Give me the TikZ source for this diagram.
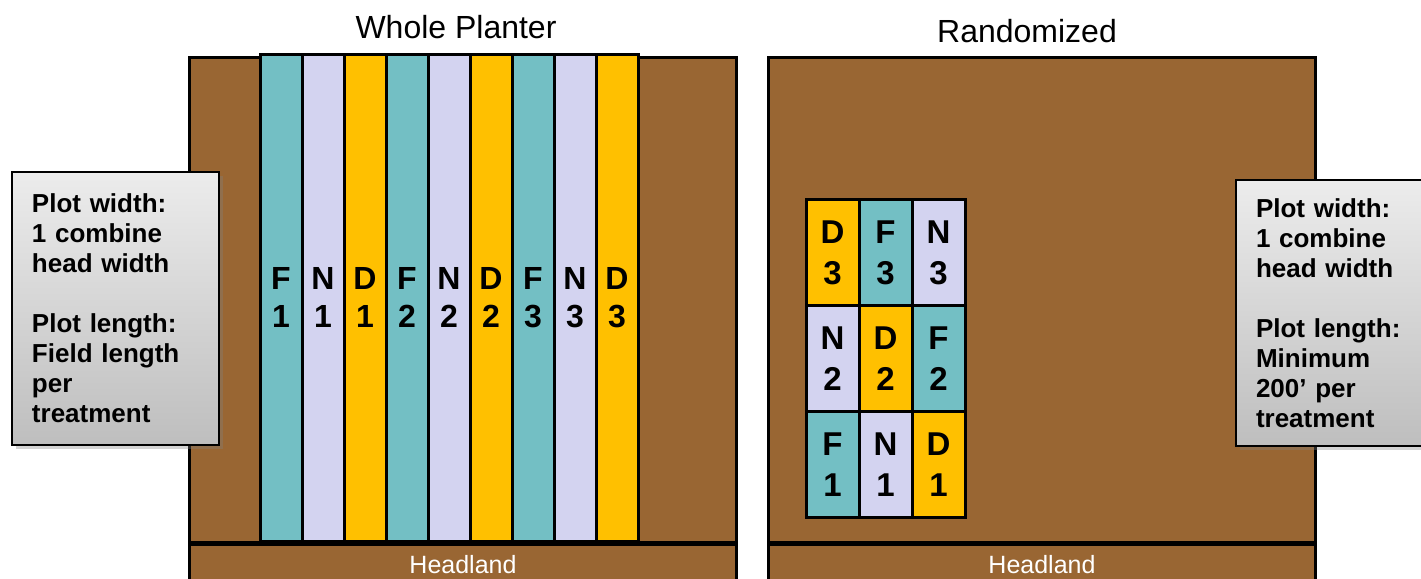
\documentclass[tikz,border=0pt]{standalone}
\usepackage{fontspec}
\setmainfont{Liberation Sans}
\usetikzlibrary{shadows}
\definecolor{soil}{RGB}{153,102,51}
\definecolor{tealc}{RGB}{115,191,196}
\definecolor{lavc}{RGB}{211,211,240}
\definecolor{goldc}{RGB}{255,192,0}
\definecolor{boxtop}{RGB}{236,236,236}
\definecolor{boxbot}{RGB}{190,190,190}
\tikzset{
  fieldbox/.style={draw=black, line width=1.5pt, fill=soil, anchor=north west, inner sep=0pt},
  headbox/.style={draw=black, line width=1.5pt, fill=soil, anchor=north west, inner sep=0pt,
    minimum width=273.5pt, minimum height=20pt, text=white, font=\fontsize{12.5}{15}\selectfont},
  stripbox/.style={draw=black, line width=1.5pt, inner sep=0pt, minimum width=21pt, minimum height=243.5pt,
    align=center, font=\bfseries\fontsize{16}{19}\selectfont},
  cellbox/.style={draw=black, line width=1.5pt, inner sep=0pt, minimum width=26.5pt, minimum height=53.25pt,
    align=center, font=\bfseries\fontsize{16.5}{20.5}\selectfont},
  infobox/.style={draw=black, line width=1pt, anchor=north west, top color=boxtop, bottom color=boxbot,
    drop shadow={opacity=0.35, shadow xshift=2pt, shadow yshift=-2pt},
    inner xsep=10pt, inner ysep=0pt, align=left,
    font=\bfseries\fontsize{13}{15}\selectfont},
  titletext/.style={font=\fontsize{16}{19}\selectfont, inner sep=0pt},
  F/.style={fill=tealc}, N/.style={fill=lavc}, D/.style={fill=goldc}
}
\begin{document}
\begin{tikzpicture}[x=0.5pt, y=-0.5pt]
\useasboundingbox (0,0) rectangle (1421,579);
\clip (0,0) rectangle (1421,579);
% titles
\node[titletext] (t1) at (456,27) {Whole Planter};
\node[titletext] (t2) at (1027,31) {Randomized};
% left field
\node[fieldbox, minimum width=273.5pt, minimum height=242.5pt] (lf) at (188,56) {};
\node[headbox] (lh) at (188,543) {Headland};
% strips
\node[stripbox, F] (s1) at (281,297.5) {F\\1};
\node[stripbox, N] (s2) at (323,297.5) {N\\1};
\node[stripbox, D] (s3) at (365,297.5) {D\\1};
\node[stripbox, F] (s4) at (407,297.5) {F\\2};
\node[stripbox, N] (s5) at (449,297.5) {N\\2};
\node[stripbox, D] (s6) at (491,297.5) {D\\2};
\node[stripbox, F] (s7) at (533,297.5) {F\\3};
\node[stripbox, N] (s8) at (575,297.5) {N\\3};
\node[stripbox, D] (s9) at (617,297.5) {D\\3};
% right field
\node[fieldbox, minimum width=273.5pt, minimum height=242.5pt] (rf) at (767,56) {};
\node[headbox] (rh) at (767,543) {Headland};
% grid
\node[cellbox, D] (c11) at (832.5,252.5) {D\\3};
\node[cellbox, F] (c12) at (885.5,252.5) {F\\3};
\node[cellbox, N] (c13) at (938.5,252.5) {N\\3};
\node[cellbox, N] (c21) at (832.5,358.5) {N\\2};
\node[cellbox, D] (c22) at (885.5,358.5) {D\\2};
\node[cellbox, F] (c23) at (938.5,358.5) {F\\2};
\node[cellbox, F] (c31) at (832.5,464.5) {F\\1};
\node[cellbox, N] (c32) at (885.5,464.5) {N\\1};
\node[cellbox, D] (c33) at (938.5,464.5) {D\\1};
% info boxes
\node[infobox, text width=83.5pt, minimum width=103.5pt, minimum height=136.5pt] (lb) at (11,171)
  {Plot width:\\1 combine\\head width\\[15pt]Plot length:\\Field length\\per\\treatment};
\node[infobox, text width=90pt, minimum width=110pt, minimum height=133pt] (rb) at (1235,179)
  {Plot width:\\1 combine\\head width\\[15pt]Plot length:\\Minimum\\200’ per\\treatment};
\end{tikzpicture}
\end{document}
